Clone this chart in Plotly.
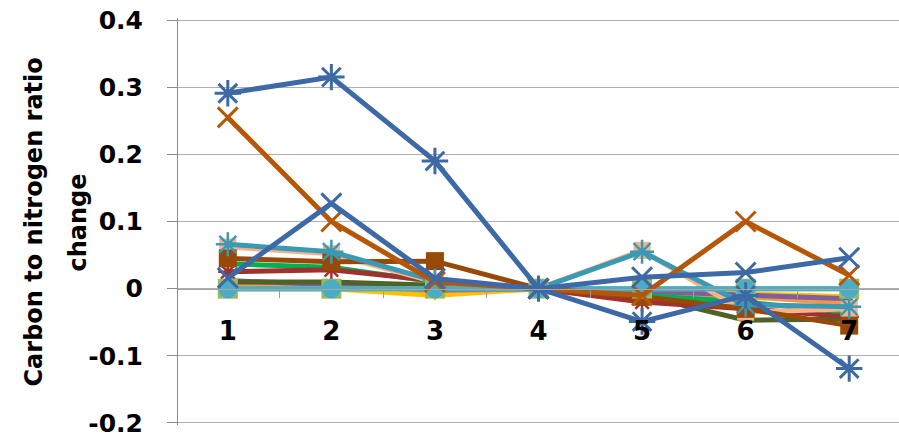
import plotly.graph_objects as go

categories = ["1", "2", "3", "4", "5", "6", "7"]

s_blue_star = [0.291, 0.315, 0.19, 0.0, -0.049, -0.01, -0.119]
s_orange_x = [0.255, 0.10, 0.01, 0.0, -0.01, 0.10, 0.02]
s_peach_sq = [0.062, 0.052, 0.01, 0.0, 0.057, -0.035, -0.03]
s_teal_star = [0.066, 0.055, 0.012, 0.0, 0.055, -0.024, -0.027]
s_brown_sq = [0.045, 0.04, 0.041, 0.0, -0.012, -0.03, -0.055]
s_red = [0.025, 0.028, 0.012, 0.0, -0.02, -0.03, -0.042]
s_green = [0.037, 0.032, 0.01, 0.0, -0.01, -0.02, -0.036]
s_olive = [0.01, 0.01, 0.005, 0.0, -0.01, -0.047, -0.045]
s_orange = [0.005, 0.005, -0.003, 0.0, -0.006, -0.012, -0.022]
s_yellow = [0.0, 0.0, -0.01, 0.0, -0.003, -0.008, -0.012]
s_purple = [0.012, 0.006, -0.002, 0.0, -0.004, -0.01, -0.015]
s_blue_x = [0.016, 0.127, 0.015, 0.0, 0.017, 0.024, 0.046]
s_green_sq = [0.0, 0.0, 0.0, 0.0, 0.0, 0.0, 0.0]
s_cyan_circ = [0.0, 0.0, 0.0, 0.0, 0.0, 0.0, 0.0]

y_tickvals = [0.4, 0.3, 0.2, 0.1, 0.0, -0.1, -0.2]
y_ticktext = ["0.4", "0.3", "0.2", "0.1", "0", "-0.1", "-0.2"]
y_range = [-0.203, 0.403]
y_title_lines = ["Carbon to nitrogen ratio", "change"]

fig = go.Figure()


def add(vals, color, symbol=None, msize=14, mcolor=None, mline=None, lw=5):
    marker = dict(size=msize, color=mcolor or color)
    if symbol:
        marker["symbol"] = symbol
    if mline:
        marker["line"] = mline
    fig.add_trace(go.Scatter(
        x=categories, y=vals, mode="lines+markers" if symbol else "lines",
        line=dict(color=color, width=lw), marker=marker, cliponaxis=False,
        showlegend=False))


add(s_yellow, "#FFC000", "triangle-down", 11)
add(s_orange, "#F79646")
add(s_purple, "#7F5FA0", "triangle-up", 9)
add(s_olive, "#4F6228")
add(s_green, "#00B050")
add(s_red, "#A0312E", "asterisk-open", 16, mline=dict(color="#C0504D", width=2.5))
add(s_peach_sq, "#F9B189", "square", 17)
add(s_brown_sq, "#984807", "square", 18)
add(s_teal_star, "#3A9AB4", "asterisk-open", 20, mline=dict(color="#3A9AB4", width=2.5))
add(s_green_sq, "#9BBB59", "square", 20)
add(s_cyan_circ, "#4BACC6", "circle", 19)
add(s_orange_x, "#B65708", "x-thin-open", 20, mline=dict(color="#B65708", width=3))
add(s_blue_x, "#3D69A6", "x-thin-open", 20, mline=dict(color="#3D69A6", width=3))
add(s_blue_star, "#3D69A6", "asterisk-open", 22, mline=dict(color="#8DB4E2", width=3))

title_font = dict(family="DejaVu Sans", size=24, color="black", weight="bold")
for txt, shift in zip(y_title_lines, [-145, -101]):
    fig.add_annotation(text=txt, xref="paper", yref="paper", x=0, y=0.5,
                       xshift=shift, yshift=-1, textangle=-90, showarrow=False,
                       xanchor="center", yanchor="middle", font=title_font)

fig.update_layout(
    width=899, height=437,
    margin=dict(l=178, r=0, t=18, b=12, autoexpand=False),
    paper_bgcolor="white", plot_bgcolor="white",
    font=dict(family="DejaVu Sans", color="black"),
    xaxis=dict(
        type="category", anchor="free",
        position=(0 - y_range[0]) / (y_range[1] - y_range[0]),
        automargin=False,
        showgrid=False, zeroline=False, showline=True, linecolor="#A6A6A6",
        ticks="outside", tickson="boundaries", ticklen=8, tickcolor="#9A9A9A",
        tickfont=dict(family="DejaVu Sans", size=26, color="black", weight="bold"),
        ticklabelstandoff=19,
    ),
    yaxis=dict(
        range=y_range, tickvals=y_tickvals, ticktext=y_ticktext,
        automargin=False, ticklabeloverflow="allow",
        showgrid=True, gridcolor="#B0B0B0", gridwidth=1, zeroline=False,
        showline=True, linecolor="#8C8C8C", ticks="outside", ticklen=10,
        tickcolor="#8C8C8C",
        tickfont=dict(family="DejaVu Sans", size=25, color="black", weight="bold"),
        ticklabelstandoff=19,
    ),
)

fig.write_html("out.html", post_script="document.body.style.margin='0';",
               config={"displayModeBar": False})
